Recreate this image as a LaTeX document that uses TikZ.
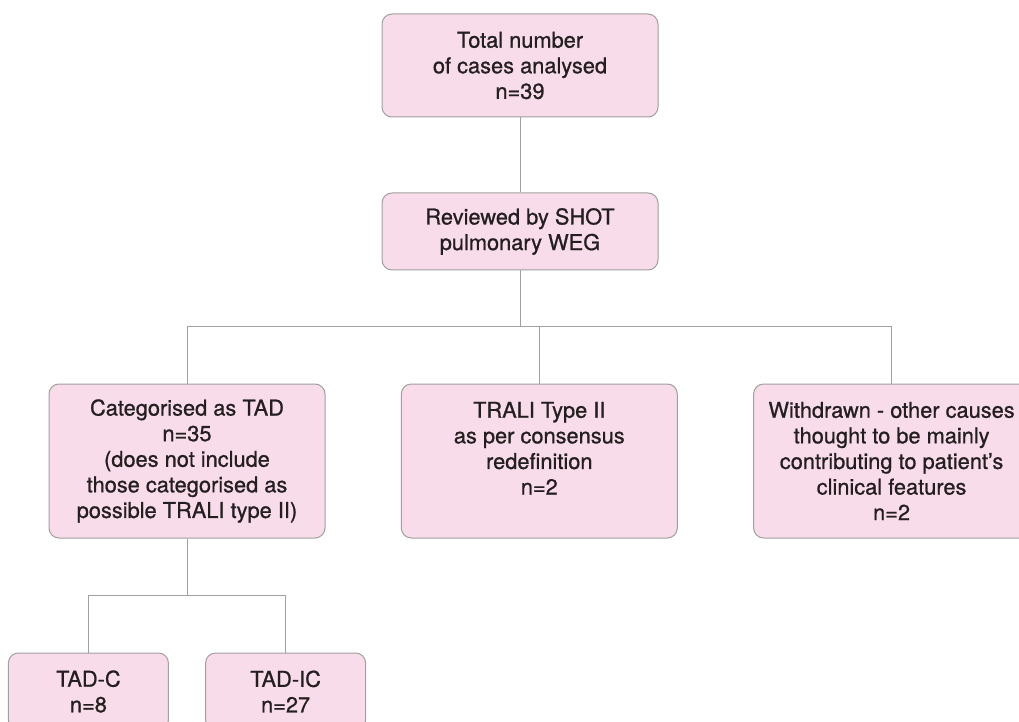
\documentclass[tikz,border=0pt]{standalone}
\usepackage{fontspec}
\setmainfont{TeX Gyre Heros}[FakeBold=0.8]
\usetikzlibrary{positioning}
\definecolor{boxpink}{RGB}{249,220,234}
\definecolor{boxline}{RGB}{160,160,160}
\definecolor{txt}{RGB}{35,31,32}

\begin{document}
\begin{tikzpicture}[
		box/.style={draw=boxline, line width=0.5pt, fill=boxpink, rounded corners=5pt,
			align=center, text=txt, minimum width=138pt, inner sep=0pt,
			font=\fontsize{10.9}{12.8}\selectfont},
		smallbox/.style={box, minimum width=80pt, minimum height=38.5pt},
		link/.style={draw=boxline, line width=0.5pt}]
		\clip (0,0) rectangle (509.5pt,-361pt);
		
		\node[box, minimum height=51.5pt] (total) at (260pt,-32.75pt) {Total number\\of cases analysed\\n=39};
		\node[box, minimum height=38.5pt] (review) [below=37.5pt of total] {Reviewed by SHOT\\pulmonary WEG};
		\draw[link] (total) -- (review);
		
		\node[box, minimum height=77pt] (trali) [below=56.5pt of review, xshift=9.65pt] {TRALI Type II\\as per consensus\\redefinition\\n=2\\\mbox{}};
		\node[box, minimum height=77pt] (tad) [left=37.65pt of trali] {Categorised as TAD\\n=35\\(does not include\\those categorised as\\possible TRALI type II)};
		\node[box, minimum height=77pt] (withdrawn) [right=37.65pt of trali] {Withdrawn - other causes\\thought to be mainly\\contributing to patient’s\\clinical features\\n=2};
		
		\draw[link] (review.south) -- ++(0,-28.25pt) coordinate (split);
		\draw[link] (tad.north) |- (withdrawn.north |- split) -- (withdrawn.north);
		\draw[link] (trali.north) -- (trali.north |- split);
		
		\node[smallbox] (tadc) [below=57pt of tad, xshift=-49.3pt] {TAD-C\\n=8};
		\node[smallbox] (tadic) [below=57pt of tad, xshift=49.3pt] {TAD-IC\\n=27};
		
		\draw[link] (tad.south) -- ++(0,-28.3pt) coordinate (split2);
		\draw[link] (tadc.north) |- (tadic.north |- split2) -- (tadic.north);
		
		\end{tikzpicture}
\end{document}
